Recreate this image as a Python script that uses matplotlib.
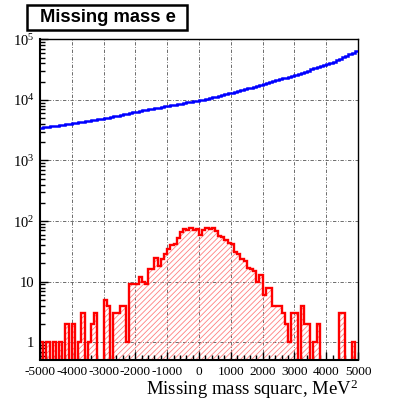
import numpy as np
import matplotlib
matplotlib.use("Agg")
import matplotlib.pyplot as plt
from matplotlib.patches import Rectangle
from matplotlib.ticker import FixedLocator, NullFormatter, LogLocator

plt.rcParams['mathtext.fontset'] = 'custom'
plt.rcParams['mathtext.rm'] = 'Liberation Serif'
plt.rcParams['mathtext.it'] = 'Liberation Serif:italic'
plt.rcParams['hatch.linewidth'] = 0.6

# ---- data ----
bin_edges_range = (-5000, 5000)
n_bins = 100

blue_counts = [
    3480, 3520, 3580, 3640, 3690, 3740, 3820, 3880, 3950, 4020,
    4100, 4180, 4260, 4330, 4420, 4510, 4590, 4680, 4790, 4880,
    5000, 5120, 5230, 5370, 5490, 5610, 5760, 5900, 6080, 6230,
    6400, 6540, 6690, 6850, 7020, 7170, 7330, 7480, 7630, 7800,
    7950, 8130, 8310, 8490, 8680, 8860, 9060, 9240, 9430, 9620,
    9800, 10100, 10400, 10700, 11000, 11300, 11600, 12000, 12400, 12800,
    13200, 13600, 14000, 14500, 15000, 15500, 16000, 16600, 17100, 17700,
    18200, 18900, 19500, 20200, 21000, 21800, 22600, 23400, 24300, 25100,
    25900, 27000, 28100, 29300, 30500, 31800, 33200, 34600, 36000, 37500,
    39000, 40800, 42800, 45000, 47500, 50200, 53300, 56800, 60500, 64500,
]

red_counts = [
    1, 0, 1, 0, 1, 0, 1, 0, 2, 0,
    2, 0, 1, 3, 0, 1, 2, 3, 0, 0,
    5, 4, 0, 3, 3, 4, 4, 1, 9, 9,
    9, 12, 10, 9, 16, 16, 25, 18, 24, 29,
    34, 41, 42, 52, 66, 74, 70, 76, 72, 75,
    60, 70, 76, 74, 76, 68, 57, 55, 48, 44,
    42, 31, 29, 24, 22, 17, 16, 15, 10, 13,
    6, 8, 8, 4, 4, 4, 3, 2, 1, 3,
    3, 0, 4, 2, 2, 0, 1, 2, 0, 0,
    0, 0, 0, 0, 3, 3, 0, 0, 1, 0,
]

x_ticks = [-5000, -4000, -3000, -2000, -1000, 0, 1000, 2000, 3000, 4000, 5000]
x_tick_labels = ["-5000", "-4000", "-3000", "-2000", "-1000", "0",
                 "1000", "2000", "3000", "4000", "5000"]
y_ticks = [1, 10, 100, 1000, 10000, 100000]
y_tick_labels = ["1", "10", r"$10^{2}$", r"$10^{3}$", r"$10^{4}$", r"$10^{5}$"]
title = "Missing mass e"
x_label = r"Missing mass squarc, MeV$^{2}$"

# ---- figure ----
W, H = 399, 401
fig = plt.figure(figsize=(W / 100, H / 100), dpi=100)
ax = fig.add_axes([40 / W, 1 - 359.5 / H, 318 / W, (359.5 - 39.3) / H])

edges = np.linspace(bin_edges_range[0], bin_edges_range[1], n_bins + 1)
ymin = 0.52
floor = 1e-3
red = np.asarray(red_counts, dtype=float)
red_plot = np.where(red > 0, red, floor)

ax.set_yscale('log')
ax.set_xlim(*bin_edges_range)
ax.set_ylim(ymin, 1e5)

# grid
grid_style = dict(color='#555555', lw=0.6, linestyle=(0, (4, 2, 1, 2)), zorder=0.5)
for xv in x_ticks[1:-1]:
    ax.axvline(xv, **grid_style)
for yv in y_ticks[:-1]:
    ax.axhline(yv, **grid_style)

# red hatched histogram
ax.stairs(red_plot, edges, baseline=floor, fill=True, facecolor='none',
          edgecolor='#ff8080', hatch='//////', lw=0, zorder=1)
ax.stairs(red_plot, edges, baseline=floor, fill=False, color='#ff0000',
          lw=1.7, zorder=2)

# blue histogram
ax.stairs(blue_counts, edges, baseline=None, color='#0000ff', lw=1.8, zorder=3)

# ticks
ax.xaxis.set_major_locator(FixedLocator(x_ticks))
ax.set_xticklabels(x_tick_labels, fontfamily='Liberation Serif', fontsize=9.6)
ax.xaxis.set_minor_locator(FixedLocator(np.arange(-5000, 5001, 200)))
ax.yaxis.set_major_locator(FixedLocator(y_ticks))
ax.set_yticklabels(y_tick_labels, fontfamily='Liberation Serif', fontsize=10.5)
ax.yaxis.set_minor_locator(LogLocator(base=10, subs=np.arange(2, 10), numticks=20))
ax.yaxis.set_minor_formatter(NullFormatter())
ax.tick_params(axis='both', which='major', direction='in', length=6, width=1,
               top=False, right=False, color='black')
ax.tick_params(axis='both', which='minor', direction='in', length=3.5, width=1,
               top=False, right=False, color='black')
ax.tick_params(axis='x', which='major', pad=5)
ax.tick_params(axis='y', which='major', pad=4)

for sp in ax.spines.values():
    sp.set_linewidth(1.0)
    sp.set_color('black')
ax.spines['left'].set_linewidth(1.5)
ax.spines['bottom'].set_linewidth(1.5)

# x label
fig.text(358 / W, 1 - 389 / H, x_label, ha='right', va='center',
         fontfamily='Liberation Serif', fontsize=13.5)

# title box
fig.patches.append(Rectangle((27 / W, 1 - 30 / H), 160 / W, 25 / H,
                             transform=fig.transFigure, facecolor='white',
                             edgecolor='black', lw=1.8, zorder=5))
fig.text(108 / W, 1 - 17.5 / H, title, ha='center', va='center',
         fontfamily='Liberation Sans', fontweight='bold', fontsize=13.2, zorder=6)

fig.savefig('out.png', dpi=100, facecolor='white')
